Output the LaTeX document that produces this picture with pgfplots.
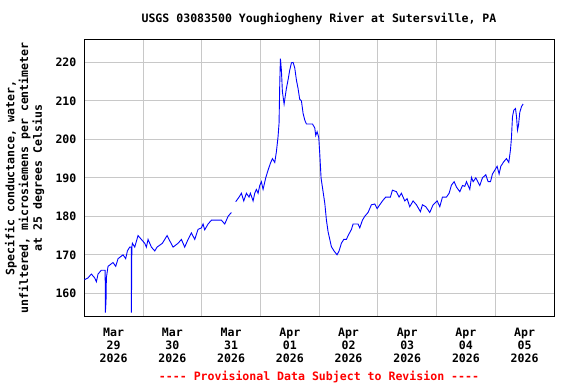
\documentclass[border=0pt]{standalone}
\usepackage{fontspec}
\setmainfont{DejaVu Sans Mono}
\newfontfamily\chartff{DejaVu Sans Mono}
\usepackage{pgfplots}
\pgfplotsset{compat=1.18}
\definecolor{gridgray}{RGB}{200,200,200}
\definecolor{provred}{RGB}{255,0,0}
\definecolor{lineblue}{RGB}{0,0,255}
\newcommand{\chartfont}{\chartff\fontsize{11.6}{13}\selectfont\bfseries}
\begin{document}
\begin{tikzpicture}
\path[use as bounding box] (0bp,0bp) rectangle (576bp,384bp);
\begin{axis}[
  at={(84.3bp,68bp)}, anchor=south west,
  width=469.7bp, height=276.7bp, scale only axis,
  xmin=0, xmax=8, ymin=154.1, ymax=226,
  xtick={0.5,1.5,2.5,3.5,4.5,5.5,6.5,7.5},
  xticklabels={Mar\\29\\2026,Mar\\30\\2026,Mar\\31\\2026,Apr\\01\\2026,Apr\\02\\2026,Apr\\03\\2026,Apr\\04\\2026,Apr\\05\\2026},
  xticklabel style={align=center, font=\chartfont, yshift=-9bp},
  minor xtick={1,2,3,4,5,6,7},
  xminorgrids=true, xmajorgrids=false,
  ytick={160,170,180,190,200,210,220},
  ymajorgrids=true,
  yticklabel style={font=\chartfont, xshift=-4.4bp},
  /pgf/number format/assume math mode=true,
  major tick length=0pt, minor tick length=0pt,
  grid style={gridgray, line width=1bp},
  minor grid style={gridgray, line width=1bp},
  axis line style={black, line width=1bp},
  clip=true,
]
\addplot[lineblue, line width=0.9bp] coordinates {
(0,163.5)(0.063,164)(0.12,165)(0.177,164)(0.206,163)(0.234,165)(0.29,166)(0.33,166)(0.355,166)(0.359,155)(0.37,158)(0.376,164)(0.404,167)(0.489,168)(0.535,167)(0.575,169)(0.66,170)(0.705,169)(0.734,171)(0.773,172)(0.80,172)(0.802,155)(0.81,172)(0.819,173)(0.859,172)(0.915,175)(0.972,174)(1.029,173)(1.057,172)(1.086,174)(1.143,172)(1.2,171)(1.239,172)(1.33,173)(1.41,175)(1.443,174)(1.512,172)(1.597,173)(1.654,174)(1.71,172)(1.767,174)(1.824,175.7)(1.881,174)(1.937,176.6)(1.994,177)(2.023,178)(2.051,176.5)(2.108,178)(2.165,179)(2.25,179)(2.335,179)(2.392,178)(2.449,180)(2.505,181)
};
\addplot[lineblue, line width=0.9bp] coordinates {
(2.579,183.8)(2.636,185)(2.676,186)(2.716,184)(2.761,186)(2.806,185)(2.829,186)(2.875,184)(2.903,186)(2.931,187)(2.96,186)(2.988,188)(3.016,189)(3.045,187)(3.09,190)(3.13,192)(3.17,193.8)(3.204,195)(3.244,194)(3.272,196.8)(3.3,200.7)(3.317,204.2)(3.329,214.5)(3.34,221)(3.357,218)(3.374,212.4)(3.403,209.2)(3.442,213.2)(3.471,215.5)(3.499,218)(3.528,219.9)(3.556,220)(3.584,218.6)(3.613,215.4)(3.641,213.2)(3.669,210.4)(3.698,210)(3.726,206.8)(3.755,205)(3.783,204)(3.886,204)(3.925,203)(3.942,201)(3.965,202)(3.993,200.5)(4.01,196.4)(4.033,189.9)(4.067,186.4)(4.096,183.4)(4.124,179)(4.152,176)(4.181,174)(4.209,172.1)(4.254,171)(4.305,170)(4.339,171)(4.379,173)(4.419,174)(4.464,174)(4.493,175)(4.55,176.6)(4.578,178)(4.663,178)(4.692,177)(4.737,179)(4.777,180)(4.833,181)(4.89,183)(4.947,183.2)(4.987,182)(5.032,183)(5.089,184.2)(5.134,185)(5.214,185)(5.248,186.8)(5.316,186.4)(5.361,185)(5.401,186)(5.458,184)(5.498,184.6)(5.543,182.5)(5.6,184)(5.657,183)(5.725,181.2)(5.759,183)(5.816,182.5)(5.884,181)(5.941,183)(6.01,184)(6.055,182.5)(6.1,185)(6.168,185)(6.214,186)(6.253,188.1)(6.299,189)(6.339,187.6)(6.396,186.4)(6.441,188)(6.481,187.8)(6.509,189)(6.566,187)(6.594,190.1)(6.623,189)(6.668,190)(6.736,188)(6.781,190)(6.838,190.8)(6.878,189)(6.918,189)(6.952,191)(6.992,192)(7.031,193)(7.065,191)(7.094,193)(7.145,194.2)(7.19,195)(7.23,194)(7.258,197.2)(7.275,200.3)(7.293,205.9)(7.315,207.6)(7.344,208)(7.361,206)(7.378,202.4)(7.395,203.6)(7.417,207)(7.446,208.5)(7.474,209.2)
};
\end{axis}
\node[font=\chartfont] at (319bp,365bp) {USGS 03083500 Youghiogheny River at Sutersville, PA};
\node[font=\chartff\fontsize{11.6}{13.8}\selectfont\bfseries, rotate=90, align=center] at (24.5bp,206bp) {Specific conductance, water,\\unfiltered, microsiemens per centimeter\\at 25 degrees Celsius};
\node[font=\chartfont, text=provred] at (319bp,7bp) {---- Provisional Data Subject to Revision ----};
\end{tikzpicture}
\end{document}
